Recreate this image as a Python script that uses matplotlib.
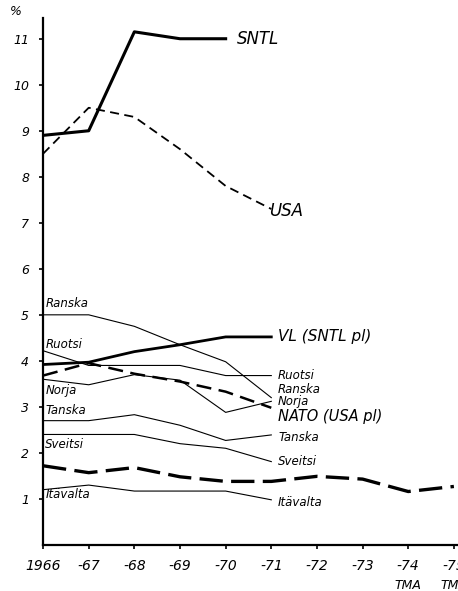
import matplotlib
matplotlib.use("Agg")
import matplotlib.pyplot as plt

# years on x axis
years = [1966, 1967, 1968, 1969, 1970, 1971, 1972, 1973, 1974, 1975]
xtick_labels = ["1966", "-67", "-68", "-69", "-70", "-71", "-72", "-73", "-74", "-75"]
ytick_vals = [1, 2, 3, 4, 5, 6, 7, 8, 9, 10, 11]

# share of GNP, %
sntl = [8.9, 9.0, 11.15, 11.0, 11.0]
usa = [8.5, 9.5, 9.3, 8.6, 7.8, 7.3]
ranska = [5.0, 5.0, 4.75, 4.35, 3.98, 3.2]
ruotsi = [4.22, 3.9, 3.9, 3.9, 3.68, 3.68]
norja = [3.6, 3.48, 3.7, 3.58, 2.88, 3.12]
nato = [3.68, 3.95, 3.72, 3.55, 3.33, 2.98]
vl = [3.92, 3.97, 4.2, 4.35, 4.52, 4.52]
tanska = [2.7, 2.7, 2.83, 2.6, 2.27, 2.39]
sveitsi = [2.4, 2.4, 2.4, 2.2, 2.1, 1.81]
suomi = [1.72, 1.57, 1.68, 1.48, 1.38, 1.38, 1.49, 1.43, 1.16, 1.27]
itavalta = [1.2, 1.3, 1.17, 1.17, 1.17, 0.98]

fig = plt.figure(figsize=(4.58, 5.91), dpi=100)
ax = fig.add_axes([0.094, 0.078, 0.906, 0.8915])

ink = "black"
thin = dict(color=ink, lw=0.8)

ax.plot(years[:len(sntl)], sntl, color=ink, lw=2.2)
ax.plot(years[:len(usa)], usa, color=ink, lw=1.3, dashes=(5, 3))
ax.plot(years[:len(ranska)], ranska, **thin)
ax.plot(years[:len(ruotsi)], ruotsi, **thin)
ax.plot(years[:len(norja)], norja, **thin)
ax.plot(years[:len(nato)], nato, color=ink, lw=1.8, dashes=(6, 3))
ax.plot(years[:len(vl)], vl, color=ink, lw=2.0)
ax.plot(years[:len(tanska)], tanska, **thin)
ax.plot(years[:len(sveitsi)], sveitsi, **thin)
ax.plot(years[:len(suomi)], suomi, color=ink, lw=2.4, dashes=(7, 2.5))
ax.plot(years[:len(itavalta)], itavalta, **thin)

lab = dict(style="italic", color=ink, va="center", ha="left")
# end labels on the right
ax.text(1970.25, 11.0, "SNTL", fontsize=12, **lab)
ax.text(1970.95, 7.25, "USA", fontsize=12, **lab)
ax.text(1971.15, 4.52, "VL (SNTL pl)", fontsize=11, **lab)
ax.text(1971.15, 3.68, "Ruotsi", fontsize=8.5, **lab)
ax.text(1971.15, 3.38, "Ranska", fontsize=8.5, **lab)
ax.text(1971.15, 3.12, "Norja", fontsize=8.5, **lab)
ax.text(1971.15, 2.78, "NATO (USA pl)", fontsize=10.5, **lab)
ax.text(1971.15, 2.34, "Tanska", fontsize=8.5, **lab)
ax.text(1971.15, 1.82, "Sveitsi", fontsize=8.5, **lab)
ax.text(1971.15, 0.93, "Itävalta", fontsize=8.5, **lab)
# start labels on the left
ax.text(1966.05, 5.25, "Ranska", fontsize=8.5, **lab)
ax.text(1966.05, 4.35, "Ruotsi", fontsize=8.5, **lab)
ax.text(1966.05, 3.35, "Norja", fontsize=8.5, **lab)
ax.text(1966.05, 2.92, "Tanska", fontsize=8.5, **lab)
ax.text(1966.05, 2.19, "Sveitsi", fontsize=8.5, **lab)
ax.text(1966.05, 1.1, "Itävalta", fontsize=8.5, **lab)

ax.set_xlim(1966, 1975.09)
ax.set_ylim(0, 11.45)
ax.set_xticks(years)
ax.set_xticklabels(xtick_labels, style="italic", fontsize=10)
ax.set_yticks(ytick_vals)
ax.set_yticklabels([str(v) for v in ytick_vals], style="italic", fontsize=9)
ax.tick_params(axis="both", direction="out", length=3, width=1.2, color=ink)
ax.tick_params(axis="x", pad=7)
ax.tick_params(axis="y", pad=7)

for s in ["top", "right"]:
    ax.spines[s].set_visible(False)
for s in ["left", "bottom"]:
    ax.spines[s].set_linewidth(1.6)

ax.text(-0.065, 1.0, "%", transform=ax.transAxes, style="italic", fontsize=9,
        ha="center", va="bottom")
for yr in [1974, 1975]:
    ax.text(yr, -0.065, "TMA", transform=ax.get_xaxis_transform(), style="italic",
            fontsize=9, ha="center", va="top", clip_on=False)

fig.savefig("out.png", dpi=100)
